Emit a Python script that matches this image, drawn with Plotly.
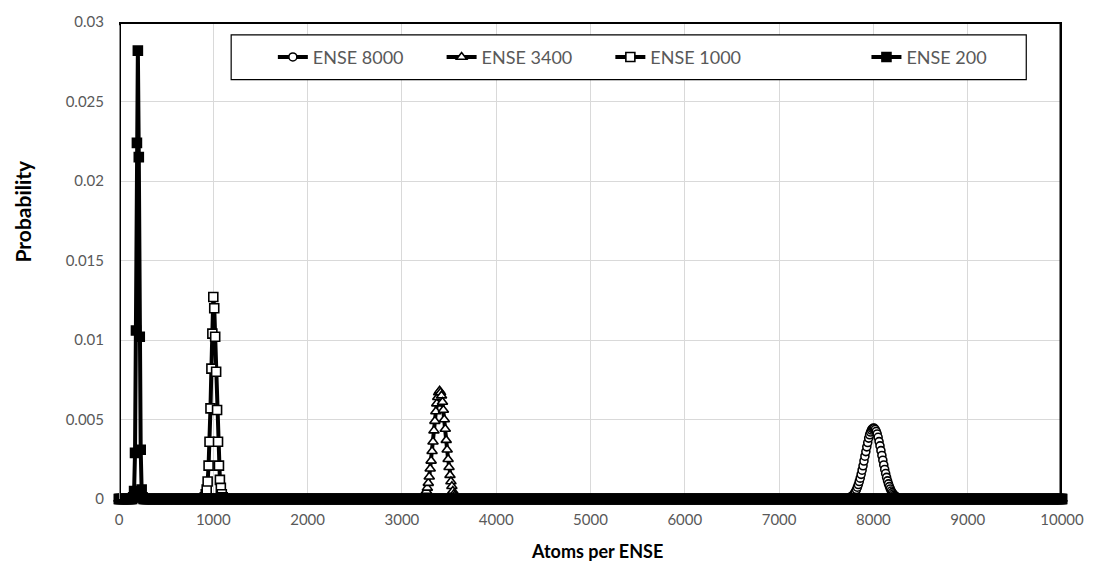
import plotly.graph_objects as go

# ---------------- data ----------------
x_tick_vals = [0, 1000, 2000, 3000, 4000, 5000, 6000, 7000, 8000, 9000, 10000]
x_tick_text = ["0", "1000", "2000", "3000", "4000", "5000", "6000", "7000", "8000", "9000", "10000"]
y_tick_vals = [0, 0.005, 0.01, 0.015, 0.02, 0.025, 0.03]
y_tick_text = ["0", "0.005", "0.01", "0.015", "0.02", "0.025", "0.03"]

# ENSE 8000 (circles)
ense8000_x = [7750, 7760, 7770, 7780, 7790, 7800, 7810, 7820, 7830, 7840, 7850, 7860, 7870, 7880,
              7890, 7900, 7910, 7920, 7930, 7940, 7950, 7960, 7970, 7980, 7990, 8000, 8010, 8020,
              8030, 8040, 8050, 8060, 8070, 8080, 8090, 8100, 8110, 8120, 8130, 8140, 8150, 8160,
              8170, 8180, 8190, 8200, 8210, 8220, 8230, 8240, 8250]
ense8000_y = [0.00009, 0.00012, 0.00016, 0.00021, 0.00028, 0.00037, 0.00047, 0.00059, 0.00074, 0.00091,
              0.00110, 0.00131, 0.00155, 0.00181, 0.00209, 0.00239, 0.00269, 0.00298, 0.00328, 0.00355,
              0.00383, 0.00404, 0.00421, 0.00434, 0.00442, 0.00446, 0.00444, 0.00437, 0.00425, 0.00409,
              0.00388, 0.00361, 0.00334, 0.00304, 0.00274, 0.00244, 0.00214, 0.00186, 0.00160, 0.00136,
              0.00114, 0.00095, 0.00078, 0.00063, 0.00050, 0.00040, 0.00031, 0.00024, 0.00018, 0.00014,
              0.00010]

# ENSE 3400 (triangles)
ense3400_x = [3240, 3250, 3260, 3270, 3280, 3290, 3300, 3310, 3320, 3330, 3340, 3350, 3360, 3370,
              3380, 3390, 3400, 3410, 3420, 3430, 3440, 3450, 3460, 3470, 3480, 3490, 3500, 3510,
              3520, 3530, 3540, 3550, 3560]
ense3400_y = [0.0002, 0.0003, 0.0005, 0.0007, 0.0010, 0.0014, 0.0019, 0.0024, 0.0030, 0.0036,
              0.0043, 0.0049, 0.0055, 0.0060, 0.0064, 0.0067, 0.0068, 0.0067, 0.0065, 0.0061,
              0.0056, 0.0050, 0.0044, 0.0037, 0.0031, 0.0025, 0.0020, 0.0015, 0.0011, 0.0008,
              0.0005, 0.0003, 0.0002]

# ENSE 1000 (squares)
ense1000_x = [910, 920, 930, 940, 950, 960, 970, 980, 990, 1000, 1010, 1020, 1030, 1040, 1050,
              1060, 1070, 1080, 1090, 1100]
ense1000_y = [0.0001, 0.0003, 0.0006, 0.0011, 0.0021, 0.0036, 0.0057, 0.0082, 0.0104, 0.0127,
              0.0120, 0.0102, 0.0080, 0.0056, 0.0036, 0.0021, 0.0012, 0.0007, 0.0003, 0.0001]

# ENSE 200 (filled squares)
ense200_peak_x = [150, 160, 170, 180, 190, 200, 210, 220, 230, 240, 250]
ense200_peak_y = [0.0001, 0.0005, 0.0029, 0.0106, 0.0224, 0.0282, 0.0215, 0.0102, 0.0031, 0.0006, 0.0001]

# every series is zero over the rest of the 0..10000 range (sampled every 10)
zero_grid_x = list(range(0, 10001, 10))

def full_series(px, py, grid):
    d = dict(zip(px, py))
    xs = sorted(set(grid) | set(px))
    return xs, [d.get(x, 0.0) for x in xs]

s8000_x, s8000_y = full_series(ense8000_x, ense8000_y, [0, 10000])
s3400_x, s3400_y = full_series(ense3400_x, ense3400_y, [0, 10000])
s1000_x, s1000_y = full_series(ense1000_x, ense1000_y, [0, 10000])
s200_x, s200_y = full_series(ense200_peak_x, ense200_peak_y, zero_grid_x)

series = [
    ("ENSE 8000", s8000_x, s8000_y, "circle", "white", 8, "legend2"),
    ("ENSE 3400", s3400_x, s3400_y, "triangle-up", "white", 9, "legend3"),
    ("ENSE 1000", s1000_x, s1000_y, "square", "white", 9, "legend4"),
    ("ENSE 200", s200_x, s200_y, "square", "black", 9, "legend5"),
]

fig = go.Figure()
for name, xs, ys, sym, fill, size, leg in series:
    fig.add_trace(go.Scatter(
        x=xs, y=ys, name=name, mode="lines+markers",
        line=dict(color="black", width=4),
        marker=dict(symbol=sym, color=fill, size=size, line=dict(color="black", width=1.6)),
        cliponaxis=False, legend=leg,
    ))

L, R, T, B = 119, 27, 19, 71
W, H = 1096, 570
pw, ph = W - L - R, H - T - B

def px_x(p):
    return (p - L) / pw

def px_y(p):
    return (H - B - p) / ph

legend_font = dict(family="Lato, sans-serif", size=18, color="#595959")
leg_y = px_y(54.5)
legend_common = dict(yanchor="middle", xanchor="left", bgcolor="rgba(0,0,0,0)",
                     borderwidth=0, font=legend_font, orientation="h")

fig.update_layout(
    width=W, height=H,
    margin=dict(l=L, r=R, t=T, b=B, pad=0),
    paper_bgcolor="white", plot_bgcolor="white",
    showlegend=True,
    legend=dict(visible=False),
    legend2=dict(x=px_x(274), y=leg_y, **legend_common),
    legend3=dict(x=px_x(444), y=leg_y, **legend_common),
    legend4=dict(x=px_x(614), y=leg_y, **legend_common),
    legend5=dict(x=px_x(872), y=leg_y, **legend_common),
    xaxis=dict(range=[0, 10000], tickvals=x_tick_vals, ticktext=x_tick_text,
               showgrid=True, gridcolor="#d9d9d9", gridwidth=1, zeroline=False,
               showline=False, ticks="", ticklabelstandoff=10,
               tickfont=dict(family="Lato, sans-serif", size=15, color="#595959")),
    yaxis=dict(range=[0, 0.03], tickvals=y_tick_vals, ticktext=y_tick_text,
               showgrid=True, gridcolor="#d9d9d9", gridwidth=1, zeroline=False,
               showline=False, ticks="", ticklabelstandoff=14,
               tickfont=dict(family="Lato, sans-serif", size=15, color="#595959")),
    annotations=[
        dict(text="<b>Atoms per ENSE</b>", xref="paper", yref="paper",
             x=px_x(601), y=px_y(551), showarrow=False, xanchor="center", yanchor="middle",
             font=dict(family="Lato, sans-serif", size=18, color="black")),
        dict(text="<b>Probability</b>", xref="paper", yref="paper", textangle=-90,
             x=px_x(22), y=px_y(209), showarrow=False, xanchor="center", yanchor="middle",
             font=dict(family="Lato, sans-serif", size=21, color="black")),
    ],
    shapes=[
        # legend box
        dict(type="rect", xref="paper", yref="paper", x0=px_x(232), x1=px_x(1033),
             y0=px_y(77), y1=px_y(32), line=dict(color="black", width=1.2),
             fillcolor="white", layer="above"),
        # plot frame
        dict(type="line", xref="x", yref="y", x0=0, x1=10000, y0=0.03, y1=0.03,
             line=dict(color="black", width=4), layer="above"),
        dict(type="line", xref="x", yref="y", x0=10000, x1=10000, y0=0, y1=0.03,
             line=dict(color="black", width=5), layer="above"),
        dict(type="line", xref="x", yref="y", x0=0, x1=0, y0=0, y1=0.03,
             line=dict(color="black", width=4), layer="above"),
        dict(type="line", xref="x", yref="y", x0=0, x1=0, y0=0, y1=0.0298,
             line=dict(color="#b8b8b8", width=1.5), layer="above"),
    ],
)

fig.write_html("out.html", config={"displayModeBar": False},
               post_script="document.body.style.margin='0px';")
